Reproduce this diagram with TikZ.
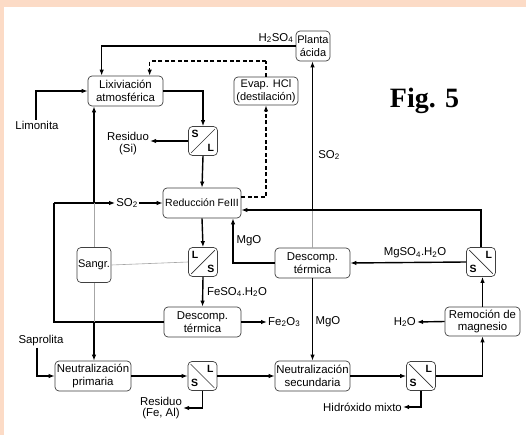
\documentclass[tikz,border=0pt]{standalone}
\usepackage{fontspec}
\setmainfont{Liberation Sans}
\newfontfamily\figfont{Liberation Serif}
\usetikzlibrary{arrows.meta,calc}
\definecolor{peach}{HTML}{FCDBC6}
\tikzset{
  box/.style={draw=black!75, line width=0.7pt, rounded corners=4pt, align=center, inner sep=0pt, font=\fontsize{11.4}{12.8}\selectfont},
  sepbox/.style={draw=black!75, line width=0.7pt, rounded corners=4pt, minimum width=29pt, minimum height=29pt, inner sep=0pt},
  lab/.style={font=\fontsize{11.4}{12.8}\selectfont, inner sep=1pt, align=center},
  sl/.style={font=\fontsize{10.5}{10.5}\selectfont\bfseries, inner sep=0pt},
  diag/.style={line width=0.7pt, black!80},
  flow/.style={line width=1.4pt, -{Latex[length=6pt,width=4.5pt]}},
  flowline/.style={line width=1.4pt},
  dflow/.style={line width=1.2pt, dash pattern=on 4pt off 2.5pt, -{Latex[length=6pt,width=4.5pt]}},
  dline/.style={line width=1.2pt, dash pattern=on 4pt off 2.5pt},
  bleed/.style={draw=black!35, line width=0.6pt},
}
\begin{document}
\begin{tikzpicture}[x=1pt,y=-1pt]
\useasboundingbox (0,0) rectangle (526,435);
\fill[white] (0,0) rectangle (526,435);
\fill[peach] (0,0) rectangle (526,7);
\fill[peach] (0,0) rectangle (4,435);

% process boxes
\node[box, minimum width=75pt, minimum height=30pt] (lix) at (125.5,91) {Lixiviación\\atmosférica};
\node[box, minimum width=64pt, minimum height=28pt, font=\fontsize{11}{12.5}\selectfont] (evap) at (266,91) {Evap. HCl\\(destilación)};
\node[box, minimum width=34pt, minimum height=30pt, font=\fontsize{11}{12.5}\selectfont] (planta) at (313,46) {Planta\\ácida};
\node[box, minimum width=78pt, minimum height=30pt, font=\fontsize{10.5}{12}\selectfont] (red) at (202,203) {Reducción FeIII};
\node[box, minimum width=34pt, minimum height=35pt, font=\fontsize{11}{12.5}\selectfont] (sangr) at (94,265) {Sangr.};
\node[box, minimum width=77pt, minimum height=30pt] (desc1) at (202.5,322) {Descomp.\\térmica};
\node[box, minimum width=75pt, minimum height=30pt] (desc2) at (312.5,263) {Descomp.\\térmica};
\node[box, minimum width=75pt, minimum height=29pt] (rem) at (482.5,321.5) {Remoción de\\magnesio};
\node[box, minimum width=76pt, minimum height=30pt] (np) at (93,376) {Neutralización\\primaria};
\node[box, minimum width=75pt, minimum height=30pt] (ns) at (312.5,376) {Neutralización\\secundaria};

% separators
\node[sepbox] (s1) at (203,141) {};
\draw[diag] ([shift={(3pt,3pt)}]s1.south west) -- ([shift={(-3pt,-3pt)}]s1.north east);
\node[sl] (s1a) at ([shift={(7pt,-8pt)}]s1.north west) {S};
\node[sl] (s1b) at ([shift={(-7pt,8pt)}]s1.south east) {L};

\node[sepbox] (s2) at (203,262) {};
\draw[diag] ([shift={(3pt,3pt)}]s2.south west) -- ([shift={(-3pt,-3pt)}]s2.north east);
\node[sl] (s2a) at ([shift={(7pt,-8pt)}]s2.north west) {L};
\node[sl] (s2b) at ([shift={(-7pt,8pt)}]s2.south east) {S};

\node[sepbox] (s3) at (202.5,376) {};
\draw[diag] ([shift={(3pt,-3pt)}]s3.north west) -- ([shift={(-3pt,3pt)}]s3.south east);
\node[sl] (s3a) at ([shift={(-7pt,-8pt)}]s3.north east) {L};
\node[sl] (s3b) at ([shift={(7pt,8pt)}]s3.south west) {S};

\node[sepbox] (s4) at (421,376) {};
\draw[diag] ([shift={(3pt,-3pt)}]s4.north west) -- ([shift={(-3pt,3pt)}]s4.south east);
\node[sl] (s4a) at ([shift={(-7pt,-8pt)}]s4.north east) {L};
\node[sl] (s4b) at ([shift={(7pt,8pt)}]s4.south west) {S};

\node[sepbox] (s5) at (481,262) {};
\draw[diag] ([shift={(3pt,-3pt)}]s5.north west) -- ([shift={(-3pt,3pt)}]s5.south east);
\node[sl] (s5a) at ([shift={(-7pt,-8pt)}]s5.north east) {L};
\node[sl] (s5b) at ([shift={(7pt,8pt)}]s5.south west) {S};

% labels
\node[lab] (h2so4) at (276,38) {H\textsubscript{2}SO\textsubscript{4}};
\node[lab] (limo) at (37,125) {Limonita};
\node[lab, font=\fontsize{11.4}{12}\selectfont] (res1) at (128,144) {Residuo\\(Si)};
\node[lab] (so2) at (127,203) {SO\textsubscript{2}};
\node[lab] (so2b) at (329,155) {SO\textsubscript{2}};
\node[lab] (mgo1) at (249,241) {MgO};
\node[lab] (mgso4) at (415,253) {MgSO\textsubscript{4}.H\textsubscript{2}O};
\node[lab] (feso4) at (237,292) {FeSO\textsubscript{4}.H\textsubscript{2}O};
\node[lab, anchor=west] (fe2o3) at (267,322) {Fe\textsubscript{2}O\textsubscript{3}};
\node[lab] (mgo2) at (328,322) {MgO};
\node[lab, anchor=east] (h2o) at (417,322) {H\textsubscript{2}O};
\node[lab] (sapro) at (41,341) {Saprolita};
\node[lab, font=\fontsize{11.4}{11.5}\selectfont] (res2) at (161,408) {Residuo\\(Fe, Al)};
\node[lab, anchor=east] (hidr) at (403,407) {Hidróxido mixto};
\node[inner sep=0pt, anchor=base, font=\figfont\bfseries\fontsize{28}{30}\selectfont] (fig) at (424.5,108) {Fig. 5};

% coordinates
\coordinate (c1) at (54,203);
\coordinate (c2) at (54,322);
\coordinate (c3) at (94,203);
\coordinate (c4) at (94,322);
\coordinate (c5) at (312.5,210);
\coordinate (d1) at (266,61);

% connectors
\draw[flow] (planta.west) -| ([xshift=14pt]lix.north west);
\draw[dline] (evap.north) -- (d1);
\draw[dflow] (d1) -| ([xshift=62pt]lix.north west);
\draw[dflow] ([yshift=6pt]red.east) -| (evap.south);
\draw[flow] ([xshift=-1pt]limo.north) |- (lix.west);
\draw[flow] (lix.east) -| (s1.north);
\draw[flow] (s1.west) -- (s1.west -| res1.east);
\draw[flow] (s1.south) -- (red.north);

\draw[flowline] (desc1.west) -- (c2) -- (c1);
\draw[flow] (c1) -- (so2.west);
\draw[flow] (so2.east) -- (red.west);
\draw[flow] (c3) -- (c3 |- lix.south);
\draw[bleed] (c3) -- (sangr.north);
\draw[bleed] (sangr.south) -- (c4);
\draw[bleed] (sangr.east) -- (s2.west);
\draw[flow] (c4) -- (c4 |- np.north);

\draw[flow] (red.south) -- (s2.north);
\draw[flow] (s2.south) -- (desc1.north);
\draw[flow] (desc1.east) -- (fe2o3.west);
\draw[flow] (desc2.west) -| ([xshift=31pt]red.south);
\draw[bleed] (desc2.north) -- (c5);
\draw[flow] (c5) -- (c5 |- planta.south);
\draw[flow] (s5.north) |- ([yshift=-7pt]red.east);
\draw[flow] (s5.west) -- (desc2.east);
\draw[flow] (rem.north) -- (rem.north |- s5.south);
\draw[flow] (rem.west) -- (h2o.east);

\draw[flow] ([xshift=-4pt]sapro.south) |- (np.west);
\draw[flow] (np.east) -- (s3.west);
\draw[flow] (s3.east) -- (ns.west);
\draw[flow] (s3.south) |- (res2.east);
\draw[flow] (desc2.south) -- (ns.north);
\draw[flow] (ns.east) -- (s4.west);
\draw[flow] (s4.east) -| (rem.south);
\draw[flow] (s4.south) |- (hidr.east);
\end{tikzpicture}
\end{document}
